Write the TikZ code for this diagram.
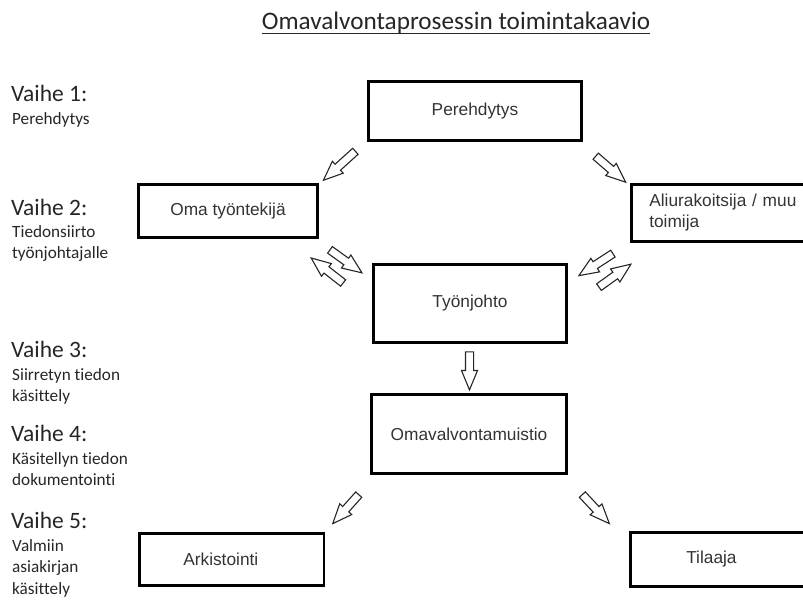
\documentclass[tikz,border=0pt]{standalone}
\usepackage{fontspec}
\setmainfont{Carlito}[Ligatures=NoCommon]
\newfontfamily\arialf{Liberation Sans}
\usetikzlibrary{shapes.arrows,calc}
\newcommand\blockarrowat[3]{%
  \path let \p1=($(#3)-(#2)$), \n1={atan2(\y1,\x1)}, \n2={veclen(\x1,\y1)} in
    node[barrow, minimum height=\n2, rotate=\n1] (#1) at ($(#2)!0.5!(#3)$) {};}
\begin{document}
\begin{tikzpicture}[x=1pt,y=-1pt,
  box/.style={draw=black, line width=2.6pt, rectangle, inner sep=0pt,
    font=\arialf\fontsize{17.3}{21}\selectfont, text=black!80},
  barrow/.style={draw=black!85, line width=1.1pt, shape=single arrow,
    single arrow head extend=4pt, single arrow tip angle=45,
    minimum width=15pt, inner xsep=0pt, inner ysep=3.5pt, fill=white},
  big/.style={font=\fontsize{23.5}{27}\selectfont, anchor=base west, inner sep=0pt, text=black!85},
  small/.style={font=\fontsize{17.2}{21}\selectfont, anchor=base west, inner sep=0pt, text=black!85}]
\useasboundingbox (0,0) rectangle (803,601);

% title
\node[font=\fontsize{25.2}{30}\selectfont, inner sep=0pt, anchor=base, text=black!85] (title) at (456,30) {Omavalvontaprosessin toimintakaavio};
\draw[line width=1.2pt, black!85] ([yshift=-3.5pt]title.base west) -- ([yshift=-3.5pt]title.base east);

% left labels
\node[big] (v1) at (11,102) {Vaihe 1:};
\node[small] (v1a) at (12,125) {Perehdytys};
\node[big] (v2) at (11,216) {Vaihe 2:};
\node[small] (v2a) at (12,238) {Tiedonsiirto};
\node[small] (v2b) at (12,259) {työnjohtajalle};
\node[big] (v3) at (11,358) {Vaihe 3:};
\node[small] (v3a) at (12,381) {Siirretyn tiedon};
\node[small] (v3b) at (12,402) {käsittely};
\node[big] (v4) at (11,441) {Vaihe 4:};
\node[small] (v4a) at (12,464) {Käsitellyn tiedon};
\node[small] (v4b) at (12,485) {dokumentointi};
\node[big] (v5) at (11,528) {Vaihe 5:};
\node[small] (v5a) at (12,551) {Valmiin};
\node[small] (v5b) at (12,572) {asiakirjan};
\node[small] (v5c) at (12,594) {käsittely};

% boxes
\node[box, minimum width=213pt, minimum height=59pt] (per) at (475,111) {Perehdytys};
\node[box, minimum width=179pt, minimum height=53pt] (oma) at (228,211) {Oma työntekijä};
\node[box, anchor=west, minimum height=57pt, inner xsep=17.7pt, text width=160pt, align=left] (ali) at (630.3,213) {Aliurakoitsija / muu\\toimija};
\node[box, minimum width=193pt, minimum height=78pt] (tyo) at (470,303.5) {Työnjohto};
\node[box, minimum width=195pt, minimum height=79pt] (omv) at (469,434) {Omavalvontamuistio};
\node[box, anchor=west, minimum height=52pt, inner xsep=43.7pt, text width=97pt, align=left] (ark) at (138.3,559.5) {Arkistointi};
\node[box, anchor=west, minimum height=54pt, inner xsep=55.7pt, text width=80pt, align=left] (til) at (629.3,559.5) {Tilaaja};

% arrow end points
\coordinate (a1s) at (359,148); \coordinate (a1e) at (327,177);
\coordinate (a2s) at (592,153); \coordinate (a2e) at (622,179);
\coordinate (a3s) at (326,247); \coordinate (a3e) at (358,270);
\coordinate (a4s) at (347,286); \coordinate (a4e) at (315,261);
\coordinate (a5s) at (617,251); \coordinate (a5e) at (583,273);
\coordinate (a6s) at (595,290); \coordinate (a6e) at (627,267);
\coordinate (a7s) at (469.5,347); \coordinate (a7e) at (469.5,385);
\coordinate (a8s) at (362,491); \coordinate (a8e) at (336,520);
\coordinate (a9s) at (579,491); \coordinate (a9e) at (606,520);

\blockarrowat{perToOma}{a1s}{a1e}
\blockarrowat{perToAli}{a2s}{a2e}
\blockarrowat{omaToTyo}{a3s}{a3e}
\blockarrowat{tyoToOma}{a4s}{a4e}
\blockarrowat{aliToTyo}{a5s}{a5e}
\blockarrowat{tyoToAli}{a6s}{a6e}
\blockarrowat{tyoToOmv}{a7s}{a7e}
\blockarrowat{omvToArk}{a8s}{a8e}
\blockarrowat{omvToTil}{a9s}{a9e}
\end{tikzpicture}
\end{document}
